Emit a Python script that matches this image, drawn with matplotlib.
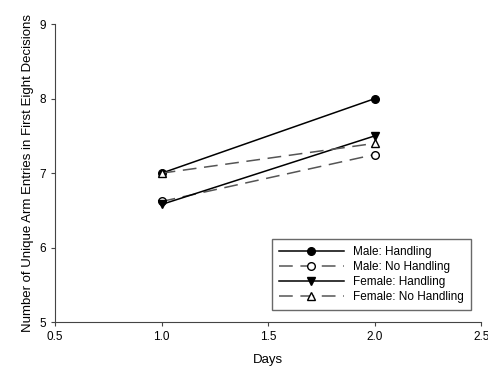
import matplotlib
matplotlib.use('Agg')
import matplotlib.pyplot as plt

plt.rcParams['font.family'] = ['Liberation Sans', 'DejaVu Sans']

days = [1.0, 2.0]
male_handling = [7.0, 8.0]
male_no_handling = [6.62, 7.25]
female_handling = [6.58, 7.5]
female_no_handling = [7.0, 7.4]

fig = plt.figure(figsize=(4.88, 3.72), dpi=100)
ax = fig.add_axes([0.113, 0.134, 0.873, 0.801])

dash = (0, (9, 5))
ax.plot(days, male_handling, color='black', lw=1.1, marker='o', ms=5.5,
        mfc='black', mec='black', label='Male: Handling')
ax.plot(days, male_no_handling, color='#555555', lw=1.1, ls=dash, marker='o', ms=5.5,
        mfc='white', mec='black', label='Male: No Handling')
ax.plot(days, female_handling, color='black', lw=1.1, marker='v', ms=5.5,
        mfc='black', mec='black', label='Female: Handling')
ax.plot(days, female_no_handling, color='#555555', lw=1.1, ls=dash, marker='^', ms=5.5,
        mfc='white', mec='black', label='Female: No Handling')

ax.set_xlim(0.5, 2.5)
ax.set_ylim(5, 9)
ax.set_xticks([0.5, 1.0, 1.5, 2.0, 2.5])
ax.set_xticklabels(['0.5', '1.0', '1.5', '2.0', '2.5'])
ax.set_yticks([5, 6, 7, 8, 9])
ax.tick_params(labelsize=8.5, length=3, color='#444444')
for s in ['top', 'right']:
    ax.spines[s].set_visible(False)
for s in ['left', 'bottom']:
    ax.spines[s].set_color('#444444')

ax.set_xlabel('Days', fontsize=9.5, labelpad=8)
ax.set_ylabel('Number of Unique Arm Entries in First Eight Decisions', fontsize=9.5)

leg = ax.legend(loc='lower right', fontsize=8.5, frameon=True, fancybox=False,
                edgecolor='#444444', handlelength=5.5, borderpad=0.6,
                labelspacing=0.25, bbox_to_anchor=(0.99, 0.02))
leg.get_frame().set_linewidth(1)

fig.savefig('out.png', dpi=100)
